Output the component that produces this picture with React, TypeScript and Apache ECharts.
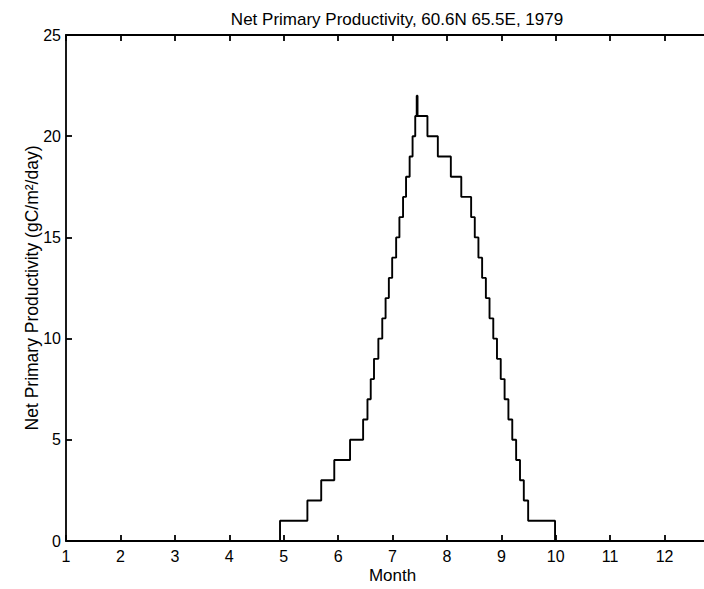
import React, { useEffect, useRef } from "react";
import * as echarts from "echarts";

// Month (fractional) at which each level begins, and the NPP level held from there
const stepMonths = [
  1, 4.933, 5.436, 5.69, 5.93, 6.22, 6.46, 6.54, 6.6, 6.66, 6.74, 6.812, 6.873,
  6.933, 6.994, 7.067, 7.127, 7.194, 7.249, 7.315, 7.369, 7.418, 7.445, 7.46,
  7.642, 7.833, 8.072, 8.264, 8.445, 8.512, 8.579, 8.647, 8.716, 8.783, 8.852,
  8.92, 8.989, 9.06, 9.13, 9.201, 9.272, 9.343, 9.413, 9.493, 9.987, 13,
];
const nppLevels = [
  0, 1, 2, 3, 4, 5, 6, 7, 8, 9, 10, 11, 12, 13, 14, 15, 16, 17, 18, 19, 20, 21,
  22, 21, 20, 19, 18, 17, 16, 15, 14, 13, 12, 11, 10, 9, 8, 7, 6, 5, 4, 3, 2, 1,
  0, 0,
];
const monthTicks = [1, 2, 3, 4, 5, 6, 7, 8, 9, 10, 11, 12];

const titleText = "Net Primary Productivity, 60.6N 65.5E, 1979";
const xName = "Month";
const yName = "Net Primary Productivity (gC/m\u00B2/day)";

export default function App() {
  const ref = useRef<HTMLDivElement>(null);

  useEffect(() => {
    document.body.style.margin = "0";
    document.body.style.overflow = "hidden";
    if (!ref.current) return;
    const chart = echarts.init(ref.current, null, { renderer: "svg" });
    const font = "'Liberation Sans', Arial, Helvetica, sans-serif";
    const lineStyle = { color: "#000", width: 1.8 };
    const data = stepMonths.map((m, i) => [m, nppLevels[i]]);

    chart.setOption({
      animation: false,
      backgroundColor: "#fff",
      title: {
        text: titleText,
        left: 392,
        textAlign: "center",
        top: 6,
        textStyle: { fontFamily: font, fontSize: 17, fontWeight: "normal", color: "#000" },
      },
      grid: { left: 66, right: 0, top: 35, bottom: 46 },
      xAxis: [
        {
          type: "value",
          min: 1,
          max: 13,
          interval: 1,
          name: xName,
          nameLocation: "middle",
          nameGap: 26,
          nameMoveOverlap: false,
          nameTextStyle: { fontFamily: font, fontSize: 17, color: "#000" },
          axisLine: { onZero: false, lineStyle },
          axisTick: { inside: true, length: 6, lineStyle },
          axisLabel: {
            fontFamily: font,
            fontSize: 16,
            color: "#000",
            margin: 7,
            formatter: (v: number) => (monthTicks.includes(v) ? String(v) : ""),
          },
          splitLine: { show: false },
        },
        {
          type: "value",
          position: "top",
          min: 1,
          max: 13,
          interval: 1,
          axisLine: { onZero: false, lineStyle },
          axisTick: { inside: true, length: 6, lineStyle },
          axisLabel: { show: false },
          splitLine: { show: false },
        },
      ],
      yAxis: [
        {
          type: "value",
          min: 0,
          max: 25,
          interval: 5,
          name: yName,
          nameLocation: "middle",
          nameGap: 25,
          nameMoveOverlap: false,
          nameTextStyle: { fontFamily: font, fontSize: 17.5, color: "#000" },
          axisLine: { show: true, onZero: false, lineStyle },
          axisTick: { show: true, inside: true, length: 6, lineStyle },
          axisLabel: { fontFamily: font, fontSize: 16, color: "#000", margin: 5 },
          splitLine: { show: false },
        },
        {
          type: "value",
          position: "right",
          min: 0,
          max: 25,
          interval: 5,
          axisLine: { show: true, onZero: false, lineStyle },
          axisTick: { show: true, inside: true, length: 6, lineStyle },
          axisLabel: { show: false },
          splitLine: { show: false },
        },
      ],
      series: [
        {
          type: "line",
          step: "end",
          data,
          showSymbol: false,
          symbol: "none",
          lineStyle: { color: "#000", width: 1.9 },
          xAxisIndex: 0,
          yAxisIndex: 0,
        },
      ],
    });

    return () => chart.dispose();
  }, []);

  return (
    <div style={{ width: 704, height: 589, overflow: "hidden" }}>
      <div ref={ref} style={{ width: 722, height: 589 }} />
    </div>
  );
}
